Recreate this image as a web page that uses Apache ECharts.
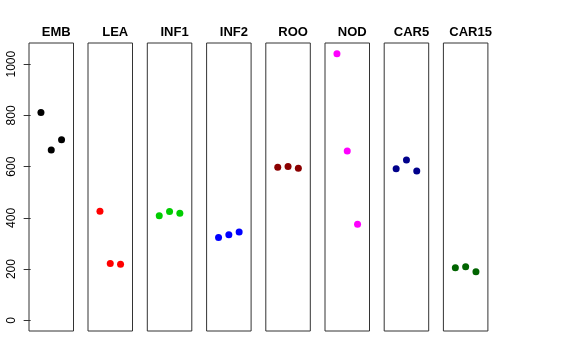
<!DOCTYPE html>
<html><head><meta charset="utf-8">
<script src="https://cdn.jsdelivr.net/npm/echarts@6/dist/echarts.min.js"></script>
<style>html,body{margin:0;padding:0;background:#fff}#c{width:576px;height:360px}</style>
</head><body><div id="c"></div>
<script>
const panels = ["EMB","LEA","INF1","INF2","ROO","NOD","CAR5","CAR15"];
const EMB = [811, 665, 705];
const LEA = [426, 222, 219];
const INF1 = [408, 425, 418];
const INF2 = [323, 334, 345];
const ROO = [598, 601, 594];
const NOD = [1041, 661, 375];
const CAR5 = [592, 626, 583];
const CAR15 = [205, 209, 190];
const values = [EMB, LEA, INF1, INF2, ROO, NOD, CAR5, CAR15];
const colors = ["#000000","#FF0000","#00CD00","#0000FF","#8B0000","#FF00FF","#00008B","#006400"];
const yTicks = [0, 200, 400, 600, 800, 1000];

const lefts = [29, 88, 147.3, 206.6, 265.8, 325, 384.2, 443.4];
const W = 44.5, TOP = 43, H = 288;
const yMin = -41.6, yMax = 1082.6;

const grid = [], xAxis = [], yAxis = [], series = [], title = [];
panels.forEach((p, i) => {
  grid.push({left: lefts[i], top: TOP, width: W, height: H, show: true,
    borderColor: '#333', borderWidth: 1, backgroundColor: 'transparent'});
  xAxis.push({gridIndex: i, type: 'value', min: -0.16, max: 4.16, show: false});
  yAxis.push({gridIndex: i, type: 'value', min: yMin, max: yMax,
    splitLine: {show: false},
    axisLine: {show: false},
    axisTick: {show: i === 0, length: 7, lineStyle: {color: '#333'}, customValues: yTicks},
    axisLabel: {show: i === 0, rotate: 90, margin: 11, color: '#000', fontSize: 12,
      fontFamily: 'Liberation Sans, Arial, sans-serif', customValues: yTicks,
      formatter: v => String(v)}
  });
  series.push({type: 'scatter', xAxisIndex: i, yAxisIndex: i, symbol: 'circle', symbolSize: 7,
    itemStyle: {color: colors[i], opacity: 1},
    data: values[i].map((v, k) => [k + 1, v]), silent: true});
  title.push({text: p, left: lefts[i] + W / 2, top: 21, textAlign: 'center',
    textStyle: {fontSize: 13, fontWeight: 'bold', color: '#000', fontFamily: 'Liberation Sans, Arial, sans-serif'}});
});

const chart = echarts.init(document.getElementById('c'), null, {renderer: 'canvas'});
chart.setOption({animation: false, title, grid, xAxis, yAxis, series});
</script></body></html>
